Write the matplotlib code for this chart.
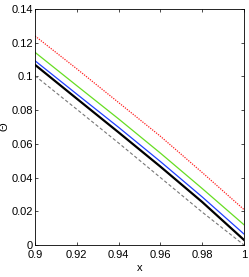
import matplotlib
matplotlib.use("Agg")
import matplotlib.pyplot as plt

# values
x = [0.90, 0.92, 0.94, 0.96, 0.98, 1.00]
theta_red = [0.1240, 0.1045, 0.0845, 0.0645, 0.0430, 0.0210]
theta_green = [0.1143, 0.0945, 0.0748, 0.0545, 0.0335, 0.0120]
theta_blue = [0.1093, 0.0895, 0.0698, 0.0495, 0.0285, 0.0065]
theta_black = [0.1069, 0.0868, 0.0668, 0.0465, 0.0255, 0.0030]
theta_dashed = [0.1004, 0.0805, 0.0605, 0.0400, 0.0195, 0.0000]

xticks = [0.9, 0.92, 0.94, 0.96, 0.98, 1.0]
xtick_labels = ["0.9", "0.92", "0.94", "0.96", "0.98", "1"]
yticks = [0, 0.02, 0.04, 0.06, 0.08, 0.1, 0.12, 0.14]
ytick_labels = ["0", "0.02", "0.04", "0.06", "0.08", "0.1", "0.12", "0.14"]

plt.rcParams["font.family"] = ["Liberation Sans", "DejaVu Sans"]

fig = plt.figure(figsize=(2.49, 2.77), dpi=100)
ax = fig.add_axes([0.1406, 0.1155, 0.8394, 0.852])

ax.plot(x, theta_dashed, color="#777777", linestyle=(0, (3, 2)), linewidth=0.8)
ax.plot(x, theta_black, color="black", linewidth=1.6)
ax.plot(x, theta_blue, color="#2040ff", linewidth=0.9)
ax.plot(x, theta_green, color="#66dd22", linewidth=0.9)
ax.plot(x, theta_red, color="#ff2020", linestyle=(0, (1, 1)), linewidth=0.9)

ax.set_xlim(0.9, 1.0)
ax.set_ylim(0, 0.14)
ax.set_xticks(xticks)
ax.set_xticklabels(xtick_labels)
ax.set_yticks(yticks)
ax.set_yticklabels(ytick_labels)
ax.tick_params(direction="in", length=2.5, width=0.5, labelsize=8,
               top=True, right=True, pad=1.5)
ax.tick_params(axis="x", pad=3.5)
for spine in ax.spines.values():
    spine.set_linewidth(0.6)

ax.set_xlabel("x", fontsize=8, labelpad=2.5)
ax.set_ylabel("Θ", fontsize=8, labelpad=1)

fig.savefig("out.png", dpi=100)
